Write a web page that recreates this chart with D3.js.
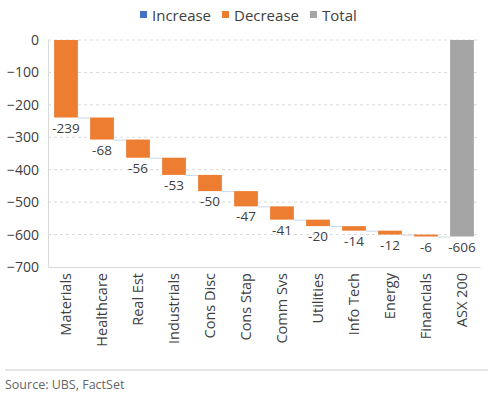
<!DOCTYPE html>
<html>
<head>
<meta charset="utf-8">
<script src="https://cdn.jsdelivr.net/npm/d3@7"></script>
<style>
  body { margin: 0; background: #fff; }
  text { font-family: "Open Sans", "Noto Sans", sans-serif; }
</style>
</head>
<body>
<div id="chart"></div>
<script>
// Data
const categories = ["Materials", "Healthcare", "Real Est", "Industrials", "Cons Disc", "Cons Stap",
  "Comm Svs", "Utilities", "Info Tech", "Energy", "Financials", "ASX 200"];
const changes = [-239, -68, -56, -53, -50, -47, -41, -20, -14, -12, -6];
const totalLabel = "ASX 200";
const yTicks = [0, -100, -200, -300, -400, -500, -600, -700];
const legendItems = ["Increase", "Decrease", "Total"];

const width = 493, height = 397;
const colorUp = "#4472C4";
const colorDown = "#ED7D31";
const colorTotal = "#A5A5A5";

const svg = d3.select("#chart").append("svg")
  .attr("width", width)
  .attr("height", height);

// build waterfall steps
let running = 0;
const steps = changes.map((v, i) => {
  const start = running;
  running += v;
  return { name: categories[i], start: start, end: running, value: v, type: v < 0 ? "down" : "up" };
});
steps.push({ name: totalLabel, start: 0, end: running, value: running, type: "total" });

const x = d3.scaleBand()
  .domain(categories)
  .range([48, 480])
  .paddingInner(0.34)
  .paddingOuter(0.17);

const y = d3.scaleLinear()
  .domain([-700, 0])
  .range([267, 40]);

// gridlines
svg.append("g")
  .selectAll("line")
  .data(yTicks.filter(d => d !== -700))
  .enter()
  .append("line")
  .attr("x1", 48)
  .attr("x2", 480)
  .attr("y1", d => y(d))
  .attr("y2", d => y(d))
  .style("stroke", "#d9d9d9")
  .style("stroke-width", 1)
  .style("stroke-dasharray", "3,3");

// y axis
const yAxis = svg.append("g")
  .attr("transform", "translate(48,0)")
  .call(d3.axisLeft(y).tickValues(yTicks).tickSize(0).tickPadding(9).tickFormat(d3.format("d")));
yAxis.select(".domain").style("stroke", "#d9d9d9");
yAxis.selectAll("text")
  .style("font-size", "14px")
  .style("fill", "#404040");

// x axis
const xAxis = svg.append("g")
  .attr("transform", "translate(0,267)")
  .call(d3.axisBottom(x).tickSize(0).tickPadding(6));
xAxis.select(".domain").style("stroke", "#d9d9d9");
xAxis.selectAll("text")
  .style("font-size", "14.5px")
  .style("fill", "#404040")
  .attr("transform", "rotate(-90)")
  .attr("text-anchor", "end")
  .attr("x", -6)
  .attr("y", 0)
  .attr("dy", "0.35em");

// connectors
svg.append("g")
  .selectAll("line")
  .data(steps.slice(0, -1))
  .enter()
  .append("line")
  .attr("x1", d => x(d.name) + x.bandwidth())
  .attr("x2", (d, i) => x(steps[i + 1].name))
  .attr("y1", d => y(d.end) + 0.5)
  .attr("y2", d => y(d.end) + 0.5)
  .style("stroke", "#c9d7e8")
  .style("stroke-width", 1);

// bars
svg.append("g")
  .selectAll("rect")
  .data(steps)
  .enter()
  .append("rect")
  .attr("x", d => x(d.name))
  .attr("width", x.bandwidth())
  .attr("y", d => y(Math.max(d.start, d.end)))
  .attr("height", d => Math.abs(y(d.start) - y(d.end)))
  .style("fill", d => d.type === "total" ? colorTotal : (d.type === "down" ? colorDown : colorUp));

// value labels
svg.append("g")
  .selectAll("text")
  .data(steps)
  .enter()
  .append("text")
  .attr("x", d => x(d.name) + x.bandwidth() / 2)
  .attr("y", d => y(Math.min(d.start, d.end)) + 15)
  .attr("text-anchor", "middle")
  .style("font-size", "13.5px")
  .style("fill", "#404040")
  .text(d => d.value);

// legend
const legendColors = [colorUp, colorDown, colorTotal];
const legendX = [140, 222, 310];
const legend = svg.append("g");
legendItems.forEach((name, i) => {
  legend.append("rect")
    .attr("x", legendX[i])
    .attr("y", 11)
    .attr("width", 7)
    .attr("height", 7)
    .style("fill", legendColors[i]);
  legend.append("text")
    .attr("x", legendX[i] + 12)
    .attr("y", 21)
    .style("font-size", "15px")
    .style("fill", "#404040")
    .text(name);
});

// source
svg.append("line")
  .attr("x1", 5).attr("x2", 488)
  .attr("y1", 370).attr("y2", 370)
  .style("stroke", "#cccccc")
  .style("stroke-width", 1);
svg.append("text")
  .attr("x", 5)
  .attr("y", 389)
  .style("font-size", "12.5px")
  .style("fill", "#666")
  .text("Source: UBS, FactSet");
</script>
</body>
</html>
